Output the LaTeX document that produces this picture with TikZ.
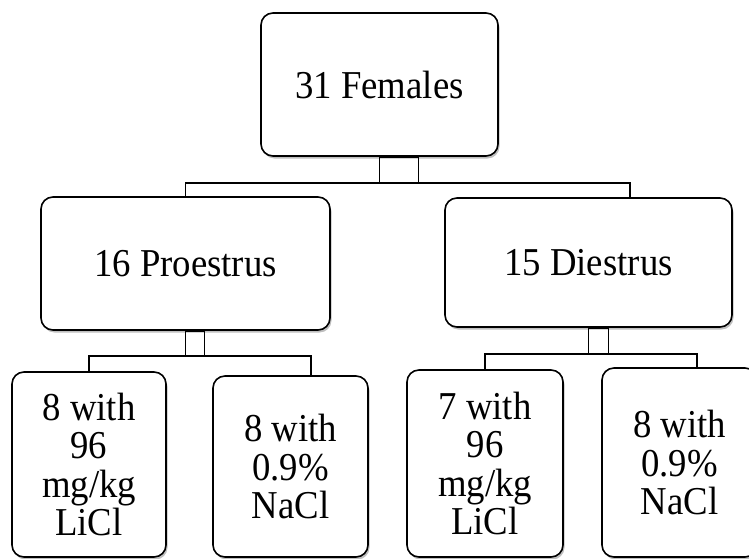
\documentclass[tikz,border=0pt]{standalone}
\usepackage{fontspec}
\setmainfont[FakeStretch=0.93]{Liberation Serif}
\usetikzlibrary{shadows}
\begin{document}
\begin{tikzpicture}[x=1pt,y=-1pt,
  box/.style={draw, line width=1.6pt, rounded corners=12pt, fill=white,
    align=center, inner sep=0pt, font=\fontsize{39.5}{38.5}\selectfont,
    drop shadow={shadow xshift=1.5pt, shadow yshift=-2.5pt, opacity=0.25, fill=black}},
  conn/.style={line width=1.5pt}]
\useasboundingbox (0,0) rectangle (749,558);
\clip (0,0) rectangle (749,558);
\node[box, minimum width=237pt, minimum height=143pt] (top) at (379.5,84.5) {31 Females};
\node[box, minimum width=289pt, minimum height=133pt] (pro) at (185.5,263.5) {16 Proestrus};
\node[box, minimum width=287pt, minimum height=129pt] (die) at (588.5,262.5) {15 Diestrus};
\node[box, minimum width=154pt, minimum height=185pt] (c1) at (89,464.5) {8 with\\96\\mg/kg\\LiCl};
\node[box, minimum width=155pt, minimum height=181pt] (c2) at (290.5,466.5) {8 with\\0.9\%\\NaCl};
\node[box, minimum width=156pt, minimum height=187pt] (c3) at (485,463.5) {7 with\\96\\mg/kg\\LiCl};
\node[box, minimum width=155pt, minimum height=189pt] (c4) at (679.5,462.5) {8 with\\0.9\%\\NaCl};
% connectors top
\coordinate (tb) at ([yshift=-26pt]top.south);
\draw[conn] (top.south) rectangle ([xshift=39pt]tb);
\draw[conn] (pro.north) -- (pro.north |- tb) -- ([xshift=41.5pt]die.north |- tb) -- ([xshift=41.5pt]die.north);
% connectors proestrus
\coordinate (pb) at ([yshift=-25pt]pro.south);
\draw[conn] (pro.south) rectangle ([xshift=19pt]pb);
\draw[conn] (c1.north) -- (c1.north |- pb) -- ([xshift=20.5pt]c2.north |- pb) -- ([xshift=20.5pt]c2.north);
% connectors diestrus
\coordinate (db) at ([yshift=-26pt]die.south);
\draw[conn] (die.south) rectangle ([xshift=20pt]db);
\draw[conn] (c3.north) -- (c3.north |- db) -- ([xshift=17.5pt]c4.north |- db) -- ([xshift=17.5pt]c4.north);
\end{tikzpicture}
\end{document}
